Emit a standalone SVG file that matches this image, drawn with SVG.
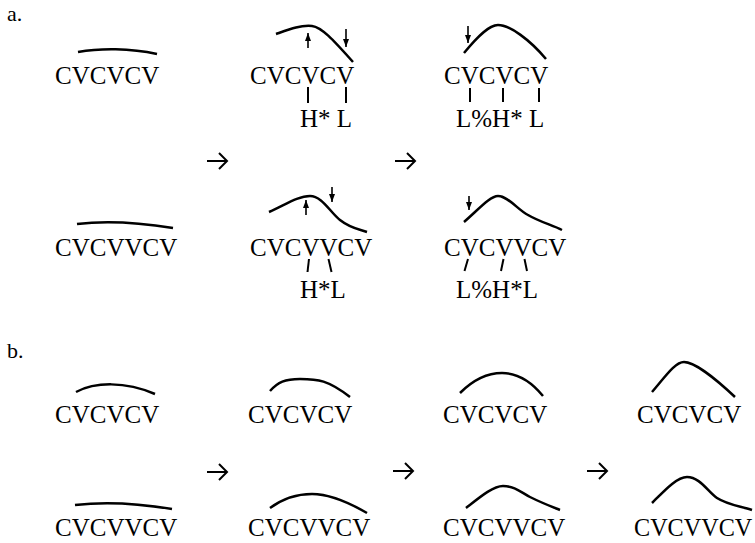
<svg xmlns="http://www.w3.org/2000/svg" width="755" height="543" viewBox="0 0 755 543">
<style>
  text { font-family: "Liberation Serif", "Times New Roman", serif; fill: #000; }
  .seg { font-size: 25px; }
  .lbl { font-size: 25px; }
  .sec { font-size: 22px; }
  .contour { fill: none; stroke: #000; stroke-width: 2.5; stroke-linecap: butt; }
  .tick { stroke: #000; stroke-width: 2; fill: none; }
  .pt { stroke: #000; stroke-width: 1.6; fill: none; marker-end: url(#head); }
  .tr { stroke: #000; stroke-width: 2; fill: none; stroke-linejoin: miter; }
</style>
<defs>
  <marker id="head" viewBox="0 0 8 6" refX="8" refY="3" markerWidth="8" markerHeight="6" markerUnits="userSpaceOnUse" orient="auto">
    <path d="M0,0 L8,3 L0,6 z" fill="#000"/>
  </marker>
  <path id="trans" d="M0,0 H20 M12,-8 L20,0 L12,8"/>
</defs>
<rect width="755" height="543" fill="#fff"/>

<text id="label-a" class="sec" x="7" y="21">a.</text>
<text id="label-b" class="sec" x="7" y="358">b.</text>

<!-- Part a, row 1 -->
<g id="a-r1-c1">
  <path class="contour" d="M78,52 C100,48 130,48 157,54"/>
  <text class="seg" x="55" y="84">CVCVCV</text>
</g>
<g id="a-r1-c2">
  <path class="contour" d="M276,34 C290,29 300,25 312,26 C322,27 335,42 353,62"/>
  <line class="pt" x1="308" y1="48" x2="308" y2="33"/>
  <line class="pt" x1="346" y1="29" x2="346" y2="47"/>
  <text class="seg" x="250" y="84">CVCVCV</text>
  <line class="tick" x1="308" y1="87" x2="308" y2="103"/>
  <line class="tick" x1="346" y1="87" x2="346" y2="103"/>
  <text class="lbl" x="300" y="127">H* L</text>
</g>
<g id="a-r1-c3">
  <path class="contour" d="M464,53 C478,36 489,25 498,25 C510,25 530,40 546,59"/>
  <line class="pt" x1="468" y1="26" x2="468" y2="43"/>
  <text class="seg" x="444" y="84">CVCVCV</text>
  <line class="tick" x1="470" y1="88" x2="470" y2="102"/>
  <line class="tick" x1="503" y1="88" x2="503" y2="102"/>
  <line class="tick" x1="539" y1="88" x2="539" y2="102"/>
  <text class="lbl" x="456" y="127">L%H* L</text>
</g>

<!-- Part a, row 2 -->
<g id="a-r2-c1">
  <path class="contour" d="M77,224 C100,221 130,221 173,228"/>
  <text class="seg" x="55" y="256">CVCVVCV</text>
</g>
<g id="a-r2-c2">
  <path class="contour" d="M269,212 C285,205 298,196 310,196 C322,196 330,212 340,220 C350,228 358,229 367,232"/>
  <line class="pt" x1="306" y1="215" x2="306" y2="200"/>
  <line class="pt" x1="332" y1="187" x2="332" y2="202"/>
  <text class="seg" x="250" y="256">CVCVVCV</text>
  <line class="tick" x1="309" y1="259" x2="307.5" y2="272"/>
  <line class="tick" x1="328.5" y1="259" x2="331.5" y2="272"/>
  <text class="lbl" x="300" y="298">H*L</text>
</g>
<g id="a-r2-c3">
  <path class="contour" d="M464,222 C478,210 490,196 498,196 C508,196 518,210 528,215 C540,222 552,225 562,230"/>
  <line class="pt" x1="469" y1="196" x2="469" y2="210"/>
  <text class="seg" x="444" y="256">CVCVVCV</text>
  <line class="tick" x1="468" y1="259" x2="464.5" y2="271"/>
  <line class="tick" x1="503.5" y1="259" x2="501" y2="271"/>
  <line class="tick" x1="524.5" y1="259" x2="527" y2="271"/>
  <text class="lbl" x="456" y="298">L%H*L</text>
</g>

<!-- Part b, row 1 -->
<g id="b-r1-c1">
  <path class="contour" d="M76,392 C95,382 125,381 155,394"/>
  <text class="seg" x="55" y="423">CVCVCV</text>
</g>
<g id="b-r1-c2">
  <path class="contour" d="M270,391 C278,382 285,379 300,379 C318,379 328,380 350,397"/>
  <text class="seg" x="248" y="423">CVCVCV</text>
</g>
<g id="b-r1-c3">
  <path class="contour" d="M460,393 C475,378 490,373 502,373 C515,373 530,380 543,396"/>
  <text class="seg" x="443" y="423">CVCVCV</text>
</g>
<g id="b-r1-c4">
  <path class="contour" d="M652,392 C665,377 675,362 684,362 C694,362 715,378 735,397"/>
  <text class="seg" x="637" y="423">CVCVCV</text>
</g>

<!-- Part b, row 2 -->
<g id="b-r2-c1">
  <path class="contour" d="M75,505 C100,502 130,502 172,509"/>
  <text class="seg" x="55" y="536">CVCVVCV</text>
</g>
<g id="b-r2-c2">
  <path class="contour" d="M270,508 C285,497 300,494 312,494 C330,494 348,502 367,513"/>
  <text class="seg" x="248" y="536">CVCVVCV</text>
</g>
<g id="b-r2-c3">
  <path class="contour" d="M466,508 C480,497 493,486 503,486 C515,486 522,493 530,497 C542,503 550,506 560,510"/>
  <text class="seg" x="443" y="536">CVCVVCV</text>
</g>
<g id="b-r2-c4">
  <path class="contour" d="M652,503 C665,490 677,477 687,477 C700,477 708,492 717,498 C728,505 740,506 752,510"/>
  <text x="634" y="536" style="font-size:24.2px">CVCVVCV</text>
</g>

<!-- transition arrows -->
<g id="connectors" class="tr">
  <use href="#trans" x="207" y="161"/>
  <use href="#trans" x="395" y="161"/>
  <use href="#trans" x="207" y="472"/>
  <use href="#trans" x="393" y="471"/>
  <use href="#trans" x="587" y="471"/>
</g>
</svg>
